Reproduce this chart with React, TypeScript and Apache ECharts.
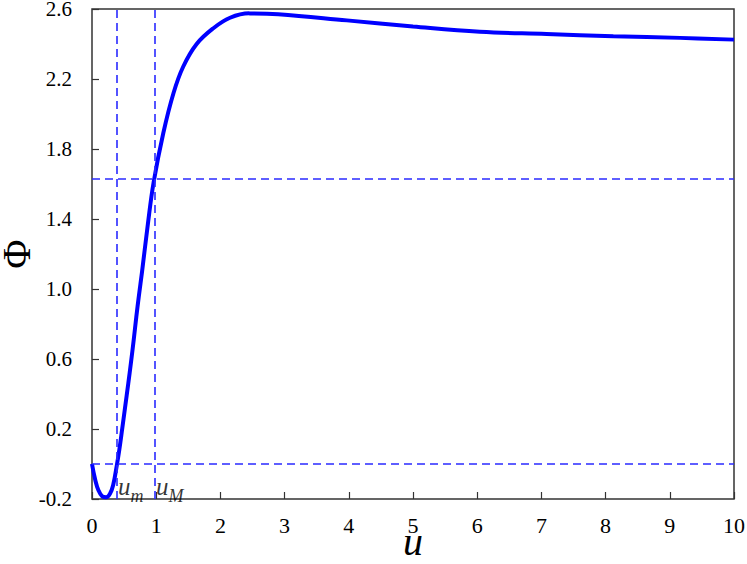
import React, { useEffect, useRef } from "react";
import * as echarts from "echarts";

const uValues = [0, 0.05, 0.1, 0.16, 0.22, 0.28, 0.33, 0.39, 0.425, 0.47, 0.514, 0.565, 0.607, 0.65, 0.69, 0.73, 0.78, 0.87, 0.96, 1.11, 1.27, 1.42, 1.63, 1.89, 2.15, 2.45, 2.9, 3.97, 5.0, 6.04, 7.08, 8.12, 9.16, 10];
const phiValues = [0, -0.09, -0.15, -0.185, -0.19, -0.17, -0.12, 0, 0.08, 0.2, 0.32, 0.46, 0.58, 0.71, 0.84, 0.96, 1.1, 1.37, 1.61, 1.89, 2.12, 2.27, 2.4, 2.49, 2.55, 2.575, 2.57, 2.535, 2.5, 2.47, 2.457, 2.444, 2.435, 2.425];

const markerU = [0.39, 0.98];
const markerPhi = [0, 1.63];
const markerNames = ["m", "M"];
const yTicks = [-0.2, 0.2, 0.6, 1.0, 1.4, 1.8, 2.2, 2.6];
const xTicks = [0, 1, 2, 3, 4, 5, 6, 7, 8, 9, 10];

const FONT = "Liberation Serif";
const BLUE = "#0000ff";
const DASH_BLUE = "#2a2aff";

export default function App() {
  const ref = useRef<HTMLDivElement>(null);
  useEffect(() => {
    if (!ref.current) return;
    const chart = echarts.init(ref.current, null, { renderer: "svg" });
    const lineData = uValues.map((u, i) => [u, phiValues[i]]);
    chart.setOption({
      animation: false,
      backgroundColor: "#ffffff",
      grid: {
        left: 92,
        top: 9,
        right: 13,
        bottom: 65,
        containLabel: false,
        outerBoundsMode: "none",
        show: true,
        borderColor: "#333",
        borderWidth: 1.5,
        backgroundColor: "transparent",
      },
      xAxis: {
        type: "value",
        min: 0,
        max: 10,
        interval: 1,
        name: "u",
        nameLocation: "middle",
        nameGap: 35,
        nameMoveOverlap: false,
        nameTextStyle: { fontFamily: FONT, fontStyle: "italic", fontSize: 40, lineHeight: 14, color: "#000" },
        axisLine: { show: false, onZero: false },
        axisTick: { show: true, inside: true, length: 7, lineStyle: { color: "#333", width: 1.2 }, customValues: xTicks },
        axisLabel: { fontFamily: FONT, fontSize: 22, lineHeight: 14, color: "#000", margin: 19, customValues: xTicks },
        splitLine: { show: false },
      },
      yAxis: {
        type: "value",
        min: -0.2,
        max: 2.6,
        name: "Φ",
        nameLocation: "middle",
        nameRotate: 90,
        nameGap: 66,
        nameMoveOverlap: false,
        nameTextStyle: { fontFamily: FONT, fontSize: 40, lineHeight: 20, color: "#000" },
        axisLine: { show: false, onZero: false },
        axisTick: { show: true, inside: true, length: 7, lineStyle: { color: "#333", width: 1.2 }, customValues: yTicks },
        axisLabel: {
          fontFamily: FONT,
          fontSize: 21,
          lineHeight: 14,
          color: "#000",
          margin: 20,
          customValues: yTicks,
          formatter: (v: number) => v.toFixed(1),
        },
        splitLine: { show: false },
      },
      series: [
        {
          type: "line",
          data: lineData,
          smooth: 0.4,
          showSymbol: false,
          symbol: "none",
          lineStyle: { color: BLUE, width: 4 },
          z: 3,
          markLine: {
            silent: true,
            symbol: "none",
            label: { show: false },
            lineStyle: { color: DASH_BLUE, width: 1.6, type: [8, 5] },
            data: [
              ...markerU.map((u) => ({ xAxis: u })),
              ...markerPhi.map((p) => ({ yAxis: p })),
            ],
          },
        },
        {
          type: "scatter",
          symbolSize: 0,
          silent: true,
          z: 4,
          data: markerU.map((u, i) => ({ value: [u, -0.2], name: markerNames[i] })),
          label: {
            show: true,
            position: "right",
            distance: 1,
            offset: [0, -13],
            formatter: (p: any) => `{a|u}{b|${p.name}}`,
            rich: {
              a: { fontFamily: FONT, fontStyle: "italic", fontSize: 25, color: "#000", lineHeight: 26, verticalAlign: "bottom" },
              b: { fontFamily: FONT, fontStyle: "italic", fontSize: 18, color: "#000", lineHeight: 26, verticalAlign: "bottom", padding: [0, 0, -6, 0] },
            },
          },
        },
      ],
    });
    return () => chart.dispose();
  }, []);
  return (
    <div
      ref={ref}
      style={{ position: "absolute", left: 0, top: 0, width: 747, height: 564 }}
    />
  );
}
